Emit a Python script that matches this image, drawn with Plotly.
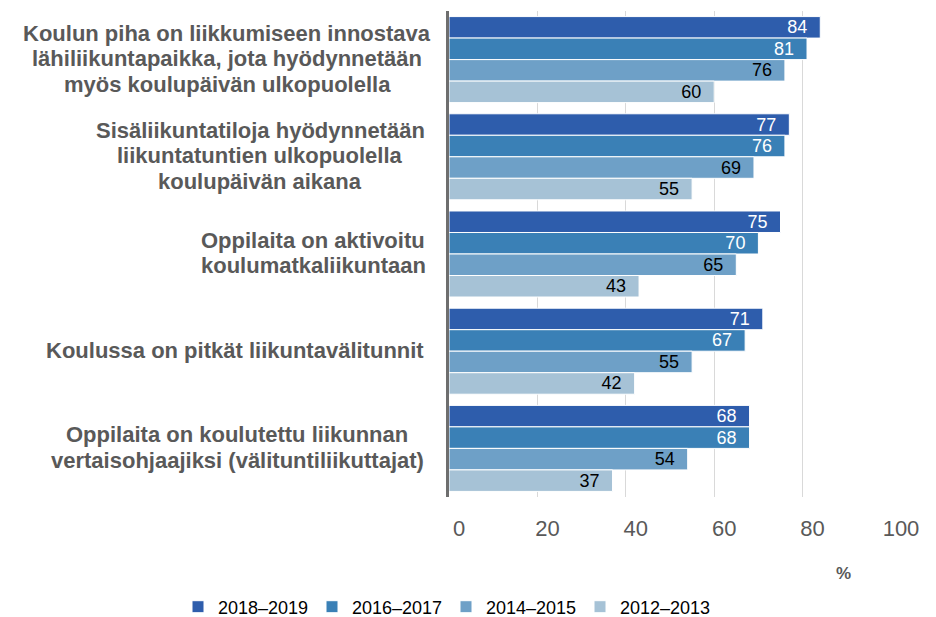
import plotly.graph_objects as go

# Kategoriat (ylhäältä alas)
categories = [
    "Koulun piha on liikkumiseen innostava<br>lähiliikuntapaikka, jota hyödynnetään<br>myös koulupäivän ulkopuolella",
    "Sisäliikuntatiloja hyödynnetään<br>liikuntatuntien ulkopuolella<br>koulupäivän aikana",
    "Oppilaita on aktivoitu<br>koulumatkaliikuntaan",
    "Koulussa on pitkät liikuntavälitunnit",
    "Oppilaita on koulutettu liikunnan<br>vertaisohjaajiksi (välituntiliikuttajat)",
]

series_names = ["2018–2019", "2016–2017", "2014–2015", "2012–2013"]
values_2018_2019 = [84, 77, 75, 71, 68]
values_2016_2017 = [81, 76, 70, 67, 68]
values_2014_2015 = [76, 69, 65, 55, 54]
values_2012_2013 = [60, 55, 43, 42, 37]

x_ticks = [0, 20, 40, 60, 80, 100]

series_values = [values_2018_2019, values_2016_2017, values_2014_2015, values_2012_2013]
colors = ["#2E5DAC", "#3A80B6", "#6EA0C7", "#A6C2D6"]
text_colors = ["#FFFFFF", "#FFFFFF", "#000000", "#000000"]

# kategoriatekstien lohkojen keskikohdat (px) ja rivivälit
label_centers = [227, 260, 313, 235, 237]
LINE_STEP = 25.5

FONT = "Liberation Sans, Arial, sans-serif"
GRAY = "#595959"
L, R, T, B = 449, 45, 11, 120
W, H = 936, 617
PW, PH = W - L - R, H - T - B

fig = go.Figure()
for name, vals, col, tcol in zip(series_names, series_values, colors, text_colors):
    fig.add_trace(go.Bar(
        y=categories, x=vals, name=name, orientation="h",
        marker=dict(color=col, line=dict(color="#FFFFFF", width=1)),
        text=[f"{v}\u00a0\u00a0" for v in vals],
        textposition="inside", insidetextanchor="end",
        constraintext="none",
        insidetextfont=dict(color=tcol, size=18, family=FONT),
        hoverinfo="x+name",
    ))

# kategorioiden otsikot: rivit keskitetty lohkon sisällä
for cat, cx in zip(categories, label_centers):
    lines = cat.split("<br>")
    n = len(lines)
    for i, line in enumerate(lines):
        fig.add_annotation(
            x=(cx - L) / PW, xref="paper", y=cat, yref="y",
            yshift=-((i - (n - 1) / 2) * LINE_STEP) + 1,
            text=line, showarrow=False, xanchor="center", yanchor="middle",
            font=dict(size=22, color=GRAY, family=FONT, weight="bold"),
        )

fig.add_annotation(
    x=(843 - L) / PW, xref="paper", y=-(573 - (H - B)) / PH, yref="paper",
    text="%", showarrow=False, xanchor="center", yanchor="middle",
    font=dict(size=17, color=GRAY, family=FONT, weight="bold"),
)

fig.update_layout(
    width=W, height=H,
    margin=dict(l=L, r=R, t=T, b=B, autoexpand=False),
    plot_bgcolor="white", paper_bgcolor="white",
    barmode="group", bargap=0.115, bargroupgap=0,
    font=dict(family=FONT, color=GRAY),
    xaxis=dict(
        range=[0, 100], tickvals=x_ticks, showgrid=True,
        gridcolor="#D9D9D9", gridwidth=1, zeroline=False, showline=False,
        ticks="", tickfont=dict(size=22, color=GRAY),
        ticklabelshift=10, ticklabelstandoff=16, fixedrange=True,
        automargin=False,
    ),
    yaxis=dict(
        autorange="reversed", showticklabels=False, ticks="",
        showgrid=False, showline=True, linecolor="#6E6E6E", linewidth=2.5,
        zeroline=False, fixedrange=True, automargin=False,
    ),
    legend=dict(
        orientation="h", x=(178 - L) / PW, xanchor="left",
        y=-(607 - (H - B)) / PH, yanchor="middle",
        font=dict(size=18, color="#000000", family=FONT),
        itemwidth=30, entrywidth=89, bgcolor="rgba(0,0,0,0)",
    ),
    showlegend=True,
)

# sivun oletusmarginaali pois, jotta kuva osuu ikkunaan
fig.write_html("out.html", config={"displayModeBar": False},
               post_script="document.body.style.margin='0';")
